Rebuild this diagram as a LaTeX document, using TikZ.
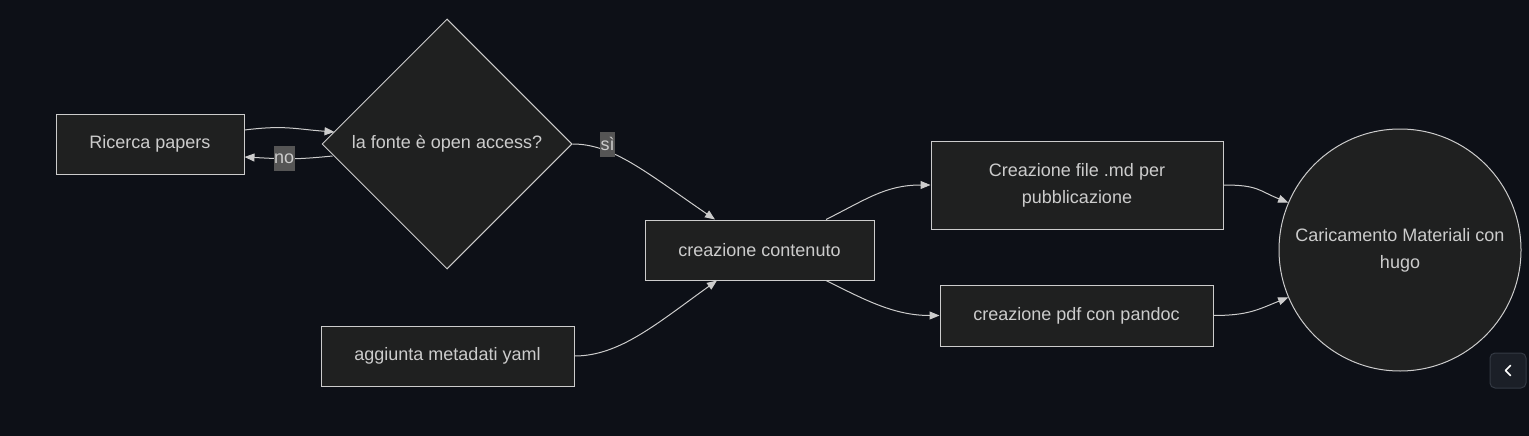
\documentclass[tikz,border=0pt]{standalone}
\usepackage{fontspec}
\setmainfont{Liberation Sans}
\usetikzlibrary{shapes.geometric,arrows.meta,positioning}

\definecolor{pagebg}{RGB}{13,16,23}
\definecolor{nodefill}{RGB}{31,32,32}
\definecolor{nodeline}{RGB}{204,204,204}
\definecolor{txtcol}{RGB}{204,204,204}
\definecolor{lblfill}{RGB}{85,85,85}
\definecolor{btnfill}{RGB}{27,31,39}
\definecolor{btnline}{RGB}{52,58,68}

\tikzset{every picture/.style={line width=1pt}}
\tikzset{
  box/.style={draw=nodeline, fill=nodefill, text=txtcol, font=\fontsize{18}{27}\selectfont, align=center, inner sep=0pt},
  decision/.style={diamond, draw=nodeline, fill=nodefill, text=txtcol, font=\fontsize{18}{27}\selectfont, inner sep=0pt, minimum width=250pt, minimum height=250pt},
  endcircle/.style={circle, draw=nodeline, fill=nodefill, text=txtcol, font=\fontsize{18}{27}\selectfont, align=center, inner sep=0pt, minimum size=242pt},
  link/.style={draw=nodeline, line width=1pt, -{Triangle[length=10pt,width=8pt]}},
  edgelbl/.style={fill=lblfill, text=txtcol, font=\fontsize{18}{27}\selectfont, inner xsep=0.5pt, inner ysep=0pt, minimum height=25pt}
}

\begin{document}
\begin{tikzpicture}[x=1pt,y=1pt,yscale=-1,xscale=1]
%background and frame of the diagram
\fill[pagebg] (0,0) rectangle (1529,436);
\useasboundingbox (0,0) rectangle (1529,436);

%Nodes
\node[box, minimum width=188pt, minimum height=60pt] (ricerca) at (150,144) {Ricerca papers};
\node[decision] (fonte) at (447,144) {la fonte è open access?};
\node[box, minimum width=229pt, minimum height=60pt] (contenuto) at (759.5,250) {creazione contenuto};
\node[box, minimum width=253pt, minimum height=60pt] (metadati) at (447.5,356) {aggiunta metadati yaml};
\node[box, minimum width=292pt, minimum height=88pt] (filemd) at (1077,185) {Creazione file .md per\\pubblicazione};
\node[box, minimum width=273pt, minimum height=61pt] (pdf) at (1076.5,315.5) {creazione pdf con pandoc};
\node[endcircle] (hugo) at (1400,250) {Caricamento Materiali con\\hugo};

%Connectors
\draw[link] ([yshift=-14pt]ricerca.east) .. controls +(40,-5) and +(-40,-3) .. ([xshift=13pt,yshift=-12pt]fonte.west);
\draw[link] ([xshift=11pt,yshift=12pt]fonte.west) .. controls +(-40,4) and +(40,2) .. node[edgelbl, pos=0.56] (lblno) {no} ([yshift=13pt]ricerca.east);
\draw[link] (fonte.east) .. controls +(40,0) and +(-70,-48) .. node[edgelbl, pos=0.3, yshift=7pt] (lblsi) {sì} ([xshift=-44.5pt]contenuto.north);
\draw[link] (metadati.east) .. controls +(45,0) and +(-60,43) .. ([xshift=-42.5pt]contenuto.south);
\draw[link] ([xshift=-48.5pt]contenuto.north east) .. controls +(40,-20) and +(-45,0) .. (filemd.west);
\draw[link] ([xshift=-48.5pt]contenuto.south east) .. controls +(40,20) and +(-45,0) .. (pdf.west);
\draw[link] (filemd.east) .. controls +(35,0) and +(-30,-12) .. (hugo.157);
\draw[link] (pdf.east) .. controls +(35,0) and +(-30,12) .. (hugo.203);

%Side button
\node[draw=btnline, fill=btnfill, rounded corners=5pt, minimum width=36pt, minimum height=35pt, inner sep=0pt] (btn) at (1508,370.5) {};
\draw[white, line width=1.6pt, line cap=round, line join=round] ([xshift=2.5pt,yshift=5pt]btn.center) -- ([xshift=-2.5pt]btn.center) -- ([xshift=2.5pt,yshift=-5pt]btn.center);

\end{tikzpicture}
\end{document}
